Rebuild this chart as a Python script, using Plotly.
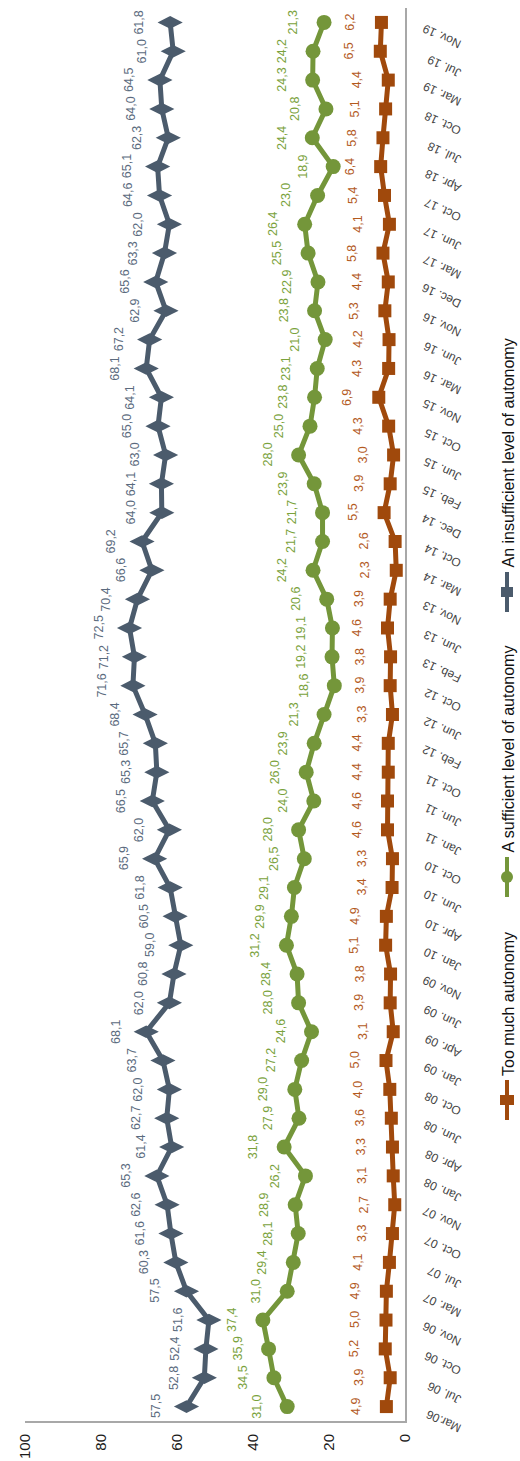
import plotly.graph_objects as go

# ---------------- data ----------------
dates = ["Mar.06", "Jul. 06", "Oct. 06", "Nov. 06", "Mar. 07", "Jul. 07", "Oct. 07", "Nov. 07",
         "Jan. 08", "Apr. 08", "Jun. 08", "Oct. 08", "Jan. 09", "Apr. 09", "Jun. 09", "Nov. 09",
         "Jan. 10", "Apr. 10", "Jun. 10", "Oct. 10", "Jan. 11", "Jun. 11", "Oct. 11", "Feb. 12",
         "Jun. 12", "Oct. 12", "Feb. 13", "Jun. 13", "Nov. 13", "Mar. 14", "Oct. 14", "Dec. 14",
         "Feb. 15", "Jun. 15", "Oct. 15", "Nov. 15", "Mar. 16", "Jun. 16", "Nov. 16", "Dec. 16",
         "Mar. 17", "Jun. 17", "Oct. 17", "Apr. 18", "Jul. 18", "Oct. 18", "Mar. 19", "Jul. 19",
         "Nov. 19"]

insufficient = [57.5, 52.8, 52.4, 51.6, 57.5, 60.3, 61.6, 62.6, 65.3, 61.4, 62.7, 62.0, 63.7,
                68.1, 62.0, 60.8, 59.0, 60.5, 61.8, 65.9, 62.0, 66.5, 65.3, 65.7, 68.4, 71.6,
                71.2, 72.5, 70.4, 66.6, 69.2, 64.0, 64.1, 63.0, 65.0, 64.1, 68.1, 67.2, 62.9,
                65.6, 63.3, 62.0, 64.6, 65.1, 62.3, 64.0, 64.5, 61.0, 61.8]

sufficient = [31.0, 34.5, 35.9, 37.4, 31.0, 29.4, 28.1, 28.9, 26.2, 31.8, 27.9, 29.0, 27.2,
              24.6, 28.0, 28.4, 31.2, 29.9, 29.1, 26.5, 28.0, 24.0, 26.0, 23.9, 21.3, 18.6,
              19.2, 19.1, 20.6, 24.2, 21.7, 21.7, 23.9, 28.0, 25.0, 23.8, 23.1, 21.0, 23.8,
              22.9, 25.5, 26.4, 23.0, 18.9, 24.4, 20.8, 24.3, 24.2, 21.3]

too_much = [4.9, 3.9, 5.2, 5.0, 4.9, 4.1, 3.3, 2.7, 3.1, 3.3, 3.6, 4.0, 5.0, 3.1, 3.9, 3.8,
            5.1, 4.9, 3.4, 3.3, 4.6, 4.6, 4.4, 4.4, 3.3, 3.9, 3.8, 4.6, 3.9, 2.3, 2.6, 5.5,
            3.9, 3.0, 4.3, 6.9, 4.3, 4.2, 5.3, 4.4, 5.8, 4.1, 5.4, 6.4, 5.8, 5.1, 4.4, 6.5, 6.2]

series_names = ["An insufficient level of autonomy", "A sufficient level of autonomy", "Too much autonomy"]
value_ticks = [0, 20, 40, 60, 80, 100]

# ---------------- style ----------------
FONT = "Liberation Sans, Arial, sans-serif"
W, H = 520, 1461
ML, MR, MT, MB = 25, 115, 8, 40

styles = [
    dict(line="#4b5b6c", text="#5b6b7e", symbol="diamond-wide", size=18),
    dict(line="#74963a", text="#7aa23c", symbol="circle", size=15),
    dict(line="#a0490c", text="#b35a1e", symbol="square", size=13),
]

fig = go.Figure()
for name, vals, st in zip(series_names, [insufficient, sufficient, too_much], styles):
    fig.add_trace(go.Scatter(
        x=vals, y=dates, mode="lines+markers", name=name, showlegend=False,
        line=dict(color=st["line"], width=5),
        marker=dict(symbol=st["symbol"], size=st["size"], color=st["line"]),
    ))
    for v, d in zip(vals, dates):
        fig.add_annotation(
            x=v, y=d, text=f"{v:.1f}".replace(".", ","), textangle=-90,
            xshift=-31, showarrow=False,
            font=dict(family=FONT, size=12.5, color=st["text"]),
        )

# ---------------- rotated legend ----------------
pw, ph = W - ML - MR, H - MT - MB


def px_x(px):
    return (px - ML) / pw


def px_y(py):
    return (H - MB - py) / ph


legend_pos = [(572, 612), (857, 897), (1080, 1120)]  # symbol extent (top, bottom) in px
for name, st, (y0, y1) in zip(series_names, styles, legend_pos):
    xc = 507
    fig.add_shape(type="line", xref="paper", yref="paper",
                  x0=px_x(xc), x1=px_x(xc), y0=px_y(y0), y1=px_y(y1),
                  line=dict(color=st["line"], width=4))
    ym = (y0 + y1) / 2
    if st["symbol"] == "square":
        fig.add_shape(type="rect", xref="paper", yref="paper",
                      x0=px_x(xc - 7), x1=px_x(xc + 7), y0=px_y(ym - 5), y1=px_y(ym + 5),
                      fillcolor=st["line"], line=dict(width=0))
    elif st["symbol"] == "circle":
        fig.add_shape(type="circle", xref="paper", yref="paper",
                      x0=px_x(xc - 6), x1=px_x(xc + 6), y0=px_y(ym - 6), y1=px_y(ym + 6),
                      fillcolor=st["line"], line=dict(width=0))
    else:
        fig.add_shape(type="rect", xref="paper", yref="paper",
                      x0=px_x(xc - 6), x1=px_x(xc + 6), y0=px_y(ym - 5), y1=px_y(ym + 5),
                      fillcolor=st["line"], line=dict(width=0))
    fig.add_annotation(xref="paper", yref="paper", x=px_x(508), y=px_y(y0 - 2),
                       xanchor="center", yanchor="bottom", text=name, textangle=-90,
                       showarrow=False, font=dict(family=FONT, size=16, color="#111111"))

fig.update_layout(
    width=W, height=H, margin=dict(l=ML, r=MR, t=MT, b=MB, autoexpand=False),
    plot_bgcolor="white", paper_bgcolor="white", showlegend=False,
)
fig.update_xaxes(
    range=[100, 0], tickvals=value_ticks, tickangle=-90, showgrid=False, zeroline=False,
    showline=True, linecolor="#a8a8a8", linewidth=2, ticks="", automargin=False,
    tickfont=dict(family=FONT, size=15, color="#1a1a1a"), ticklabelstandoff=5,
)
fig.update_yaxes(
    type="category", categoryorder="array", categoryarray=dates, range=[-0.5, len(dates) - 0.5],
    side="right", tickangle=-155, showgrid=False, zeroline=False, automargin=False,
    showline=True, linecolor="#a8a8a8", linewidth=2, ticks="",
    tickfont=dict(family=FONT, size=12, color="#444444"),
    ticklabelstandoff=50, ticklabelshift=26,
)

fig.write_html("out.html")
